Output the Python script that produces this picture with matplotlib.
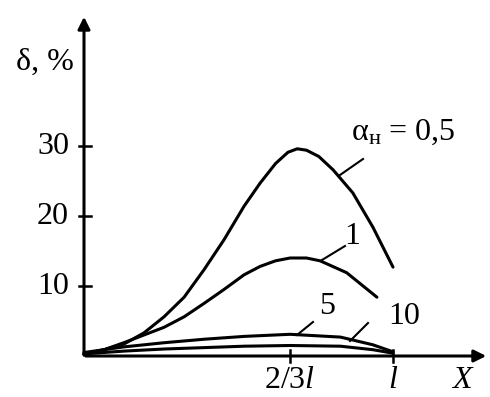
import matplotlib
matplotlib.use("Agg")
import matplotlib.pyplot as plt

# data (x in units of l, delta in %)
x05 = [0, 0.065, 0.129, 0.194, 0.259, 0.324, 0.388, 0.453, 0.518, 0.57, 0.62, 0.66, 0.69, 0.72, 0.76, 0.806, 0.87, 0.935, 1.0]
y05 = [0.3, 0.9, 1.7, 3.3, 5.6, 8.4, 12.3, 16.6, 21.4, 24.7, 27.5, 29.1, 29.6, 29.4, 28.5, 26.6, 23.3, 18.4, 12.7]
x1 = [0, 0.065, 0.129, 0.194, 0.259, 0.324, 0.388, 0.453, 0.518, 0.57, 0.62, 0.667, 0.72, 0.764, 0.85, 0.948]
y1 = [0.3, 0.9, 1.9, 3.0, 4.1, 5.6, 7.5, 9.5, 11.6, 12.8, 13.6, 14.0, 14.0, 13.6, 11.9, 8.4]
x5 = [0, 0.065, 0.129, 0.26, 0.39, 0.518, 0.667, 0.83, 0.935, 1.0]
y5 = [0.5, 0.9, 1.3, 1.9, 2.4, 2.8, 3.1, 2.7, 1.6, 0.6]
x10 = [0, 0.129, 0.26, 0.39, 0.518, 0.667, 0.83, 0.935, 1.0]
y10 = [0.3, 0.7, 1.0, 1.2, 1.4, 1.5, 1.4, 0.9, 0.4]
yticks = [10, 20, 30]
ytick_labels = ["10", "20", "30"]
xticks = [2/3, 1.0]
xtick_labels = ["2/3$\\it{l}$", "$\\it{l}$"]

plt.rcParams['font.family'] = ['Liberation Serif', 'DejaVu Serif']
plt.rcParams['mathtext.fontset'] = 'custom'
plt.rcParams['mathtext.rm'] = 'Liberation Serif'
plt.rcParams['mathtext.it'] = 'Liberation Serif:italic'

W, H = 490, 397
fig = plt.figure(figsize=(W/100, H/100), dpi=100)
ax = fig.add_axes([0, 0, 1, 1])
X0, Y0, SX, SY = 84, 356, 309, 7.0
ax.set_xlim(-X0/SX, (W - X0)/SX)
ax.set_ylim((Y0 - H)/SY, Y0/SY)
ax.axis('off')

def px(p):
    return (p - X0)/SX
def py(p):
    return (Y0 - p)/SY

lw = 2.2
for xs, ys in [(x05, y05), (x1, y1), (x5, y5), (x10, y10)]:
    ax.plot(xs, ys, color='black', lw=lw, solid_capstyle='round', solid_joinstyle='round')

# axes with arrows
ax.annotate('', xy=(px(489), 0), xytext=(px(83), 0),
            arrowprops=dict(arrowstyle='-|>', color='black', lw=2.2, mutation_scale=18))
ax.annotate('', xy=(0, py(14)), xytext=(0, py(358)),
            arrowprops=dict(arrowstyle='-|>', color='black', lw=2.2, mutation_scale=18))

fs = 23
# ticks
for v, lab in zip(yticks, ytick_labels):
    ax.plot([px(79), px(91)], [v, v], color='black', lw=1.8)
    ax.text(px(69), v, lab, ha='right', va='center', fontsize=fs)
for v, lab in zip(xticks, xtick_labels):
    ax.plot([v, v], [py(350), py(362)], color='black', lw=1.8)
    ax.text(v, py(381), lab, ha='center', va='center', fontsize=fs)
ax.text(px(462), py(381), 'X', ha='center', va='center', fontsize=fs, style='italic')
ax.text(px(45), py(62), 'δ, %', ha='center', va='center', fontsize=fs)

# curve labels with leaders
ax.text(px(403), py(132), 'α$_{\\mathrm{н}}$ = 0,5', ha='center', va='center', fontsize=fs)
ax.plot([px(340), px(363)], [py(175), py(159)], color='black', lw=1.5)
ax.text(px(352), py(236), '1', ha='center', va='center', fontsize=fs)
ax.plot([px(322), px(345)], [py(260), py(246)], color='black', lw=1.5)
ax.text(px(327), py(306), '5', ha='center', va='center', fontsize=fs)
ax.plot([px(297), px(313)], [py(335), py(322)], color='black', lw=1.5)
ax.text(px(404), py(316), '10', ha='center', va='center', fontsize=fs)
ax.plot([px(350), px(368)], [py(341), py(323)], color='black', lw=1.5)

fig.savefig('out.png', dpi=100)
